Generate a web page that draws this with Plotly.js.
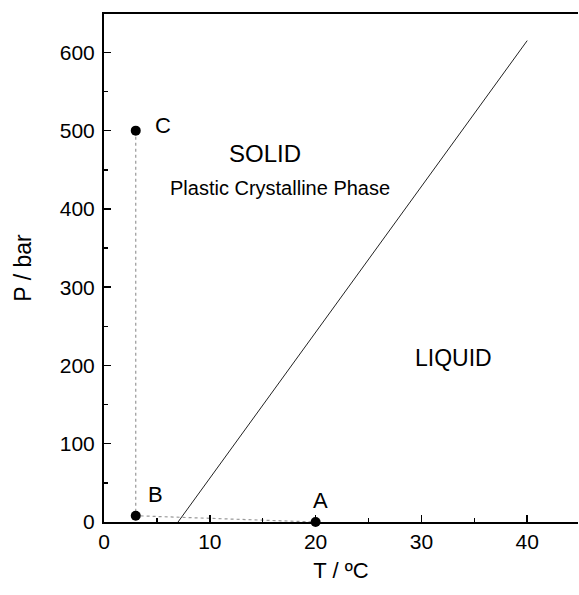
<!DOCTYPE html>
<html><head><meta charset="utf-8">
<script src="https://cdn.plot.ly/plotly-3.0.1.min.js"></script>
<style>body{margin:0;background:#fff}#chart{width:579px;height:595px}</style>
</head><body><div id="chart"></div>
<script>
// Phase boundary (melting line)
const boundaryT = [7, 40];
const boundaryP = [0, 615];
// State points
const pointLabels = ['A', 'B', 'C'];
const pointT = [20, 3, 3];
const pointP = [0, 8, 500];
// Path between states (dotted)
const pathT = [3, 3, 20];
const pathP = [500, 8, 0];
// Region labels
const regionText = ['SOLID', 'Plastic Crystalline Phase', 'LIQUID'];
const regionT = [15.2, 16.6, 33];
const regionP = [471, 427, 209];
const regionSize = [24, 20, 23];
// Point label positions
const labelT = [20.5, 4.9, 5.6];
const labelP = [28, 35, 507];

const font = 'Liberation Sans, Arial, sans-serif';
const traces = [
  {x: pathT, y: pathP, mode: 'lines', line: {color: '#999', width: 1.2, dash: 'dot'}, hoverinfo: 'skip', showlegend: false},
  {x: boundaryT, y: boundaryP, mode: 'lines', line: {color: '#222', width: 1}, showlegend: false},
  {x: pointT, y: pointP, mode: 'markers', marker: {color: '#000', size: 10}, cliponaxis: false, showlegend: false}
];
const annotations = [];
regionText.forEach((t, i) => annotations.push({x: regionT[i], y: regionP[i], text: t, showarrow: false, font: {family: font, size: regionSize[i], color: '#000'}}));
pointLabels.forEach((t, i) => annotations.push({x: labelT[i], y: labelP[i], text: t, showarrow: false, font: {family: font, size: 22, color: '#000'}}));

const layout = {
  width: 579, height: 595,
  margin: {l: 104, r: 1, t: 14, b: 73},
  paper_bgcolor: '#fff', plot_bgcolor: '#fff',
  font: {family: font, color: '#000'},
  showlegend: false,
  xaxis: {
    range: [0, 44.8], tickvals: [0, 10, 20, 30, 40], ticks: 'inside', ticklen: 7, tickwidth: 1.5, tickcolor: '#000',
    minor: {dtick: 5, ticks: 'inside', ticklen: 4, tickcolor: '#000'},
    showline: true, linecolor: '#000', linewidth: 2, mirror: true, showgrid: false, zeroline: false,
    tickfont: {size: 21}, title: {text: 'T / \u00baC', font: {size: 22}, standoff: 10}
  },
  yaxis: {
    range: [0, 649], tickvals: [0, 100, 200, 300, 400, 500, 600], ticks: 'inside', ticklen: 7, tickwidth: 1.5, tickcolor: '#000',
    minor: {dtick: 50, ticks: 'inside', ticklen: 4, tickcolor: '#000'},
    showline: true, linecolor: '#000', linewidth: 2, mirror: false, showgrid: false, zeroline: false,
    ticklabelstandoff: 3,
    tickfont: {size: 21}, title: {text: 'P / bar', font: {size: 23}, standoff: 22}
  },
  annotations: annotations
};
Plotly.newPlot('chart', traces, layout, {displayModeBar: false, staticPlot: true});
</script></body></html>
